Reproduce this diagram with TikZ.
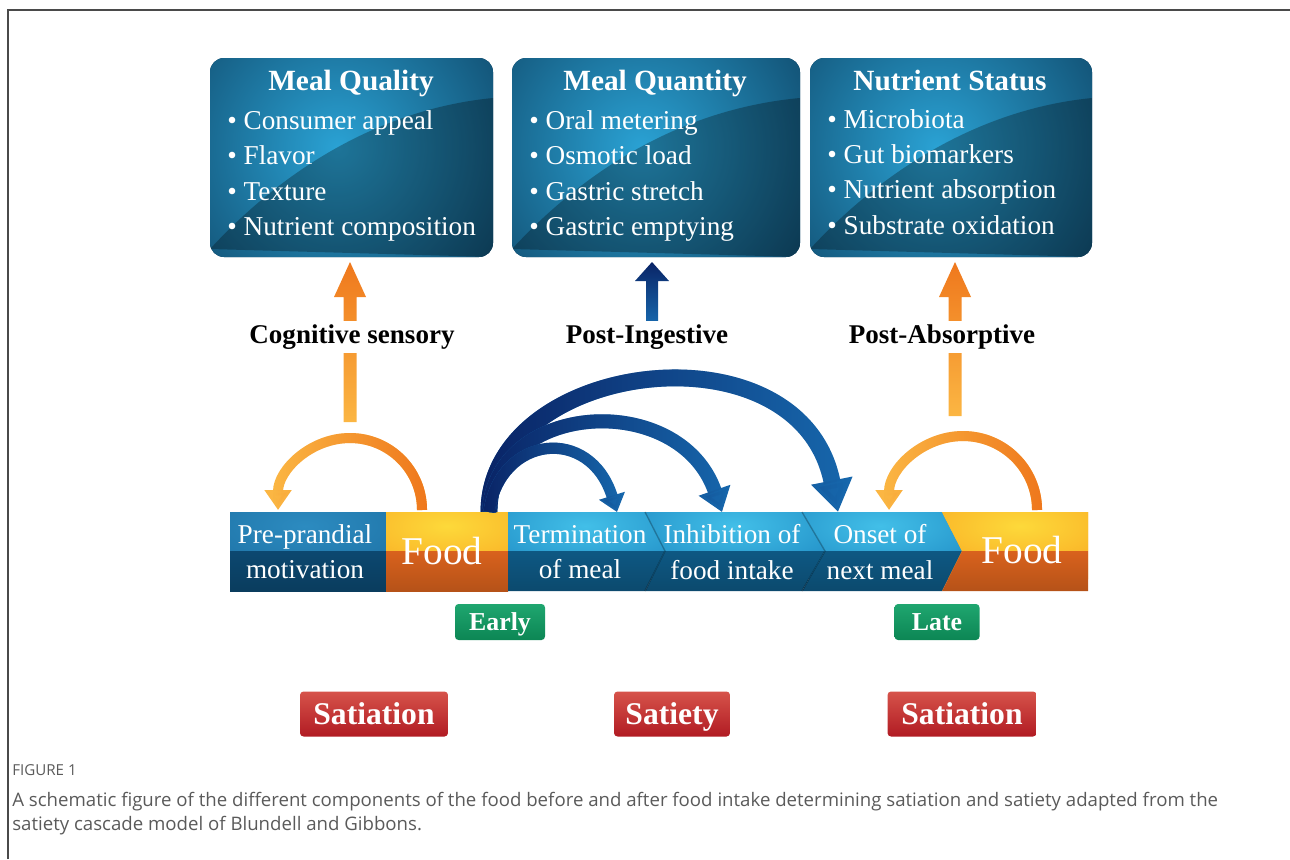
\documentclass[tikz,border=0pt]{standalone}
\usepackage{fontspec}
\setmainfont{Liberation Serif}
\newfontfamily\capfont{Open Sans}
\usetikzlibrary{calc,arrows.meta,fadings}

\definecolor{framegray}{HTML}{4A4A4A}
\definecolor{capgray}{HTML}{5A5A5A}
\definecolor{boxdark}{HTML}{0A3654}
\definecolor{boxglow}{HTML}{2AA2D4}
\definecolor{navy}{HTML}{0A2466}
\definecolor{midblue}{HTML}{1767AC}
\definecolor{deeporange}{HTML}{EF781D}
\definecolor{lightorange}{HTML}{FBB643}
\definecolor{pretop}{HTML}{1C6FA2}
\definecolor{preglow}{HTML}{2C8BC0}
\definecolor{prebottom}{HTML}{0C4870}
\definecolor{foodtop}{HTML}{F8A21F}
\definecolor{foodglow}{HTML}{FDD93A}
\definecolor{foodbottom}{HTML}{D9621D}
\definecolor{chevtop}{HTML}{1B86C0}
\definecolor{chevglow}{HTML}{42BFE8}
\definecolor{chevbottom}{HTML}{0E5883}
\definecolor{greentop}{HTML}{1FA66F}
\definecolor{greenbottom}{HTML}{0C8654}
\definecolor{redtop}{HTML}{D6534A}
\definecolor{redbottom}{HTML}{B11B23}

\tikzfading[name=fade out right, left color=transparent!0, right color=transparent!100]
\tikzfading[name=fade out left, left color=transparent!100, right color=transparent!0]

% rounded info box with glow and a darker lower-right sheen
\newcommand{\infobox}[4]{%
  \fill[boxdark, rounded corners=0.28cm] (#1,#2) rectangle (#3,#4);
  \begin{scope}
    \clip[rounded corners=0.28cm] (#1,#2) rectangle (#3,#4);
    \shade[inner color=boxglow, outer color=boxdark] ($(#1,#2)!0.45!(#3,#4)$) circle (5cm);
    \fill[black, opacity=0.28] ($(#1,#4)+(0,-8)$) .. controls ($(#1,#4)+(90,-105)$) and ($(#1,#4)+(190,-150)$) .. ($(#3,#2)+(0,40)$) -- (#3,#4) -- cycle;
  \end{scope}}

% one piece of the timeline bar: outline, glow x, glow, top and bottom colours
\newcommand{\barpiece}[5]{%
  \begin{scope}
    \clip #1;
    \fill[#4] (220,505) rectangle (1100,551);
    \shade[inner color=#3, outer color=#4] (#2,526) ellipse [x radius=3cm, y radius=1.2cm];
    \shade[top color=#5, bottom color=#5!80!black] (220,551) rectangle (1100,600);
  \end{scope}}

\tikzset{
  boxtitle/.style={anchor=base, text=white, font=\fontsize{16.7}{20}\selectfont\bfseries},
  boxlist/.style={text=white, align=left, anchor=west, inner sep=0pt, font=\fontsize{15.5}{20}\selectfont},
  phase/.style={fill=white, inner sep=2pt, font=\fontsize{15.4}{18}\selectfont\bfseries},
  bartext/.style={text=white, align=center, inner sep=0pt, font=\fontsize{15.5}{20}\selectfont},
  foodtext/.style={text=white, inner sep=0pt, font=\fontsize{22.4}{26}\selectfont},
  timebadge/.style={rounded corners=2pt, top color=greentop, bottom color=greenbottom, text=white,
    minimum height=0.72cm, inner sep=0pt, text height=12.2pt, text depth=3pt,
    font=\fontsize{14.7}{16}\selectfont\bfseries},
  effectbadge/.style={rounded corners=2pt, top color=redtop, bottom color=redbottom, text=white,
    minimum height=0.9cm, inner sep=0pt, text height=15.2pt, text depth=3.5pt,
    font=\fontsize{18}{20}\selectfont\bfseries},
  capline/.style={anchor=west, inner sep=0pt, text=capgray, font=\capfont\fontsize{10.6}{13}\selectfont}
}

\begin{document}
\begin{tikzpicture}[x=0.02cm, y=-0.02cm]
\useasboundingbox (0,0) rectangle (1290,859);

% page frame
\draw[framegray, line width=0.7pt] (8,859) -- (8,10) -- (1290,10);

% top boxes
\infobox{210}{58}{493}{257}
\infobox{512}{58}{800}{257}
\infobox{810}{58}{1092}{257}

\node[boxtitle] (qualityhead) at (351,90) {Meal Quality};
\node[boxlist] (qualitylist) at (227,176) {\textbullet{} Consumer appeal\\ \textbullet{} Flavor\\ \textbullet{} Texture\\ \textbullet{} Nutrient composition};
\node[boxtitle] (quantityhead) at (655,90) {Meal Quantity};
\node[boxlist] (quantitylist) at (529,176) {\textbullet{} Oral metering\\ \textbullet{} Osmotic load\\ \textbullet{} Gastric stretch\\ \textbullet{} Gastric emptying};
\node[boxtitle] (statushead) at (950,90) {Nutrient Status};
\node[boxlist] (statuslist) at (827,172) {\textbullet{} Microbiota\\ \textbullet{} Gut biomarkers\\ \textbullet{} Nutrient absorption\\ \textbullet{} Substrate oxidation};

% upward arrows
\shade[top color=deeporange, bottom color=lightorange] (343.5,422) -- (343.5,297) -- (334,297) -- (350,262) -- (366,297) -- (356.5,297) -- (356.5,422) -- cycle;
\shade[top color=navy, bottom color=midblue] (646,323) -- (646,281) -- (635,281) -- (652,262) -- (669,281) -- (658,281) -- (658,323) -- cycle;
\shade[top color=deeporange, bottom color=lightorange] (948.5,416) -- (948.5,297) -- (939,297) -- (955,262) -- (971,297) -- (961.5,297) -- (961.5,416) -- cycle;

\node[phase] (cognitive) at (352,337) {Cognitive sensory};
\node[phase] (ingestive) at (647,337) {Post-Ingestive};
\node[phase] (absorptive) at (942,337) {Post-Absorptive};

% timeline bar
\barpiece{(230,512) rectangle (386,591)}{305}{preglow}{pretop}{prebottom}
\barpiece{(386,512) rectangle (508,591)}{447}{foodglow}{foodtop}{foodbottom}
\barpiece{(508,512) -- (645,512) -- (665,551) -- (645,591) -- (508,591) -- cycle}{585}{chevglow}{chevtop}{chevbottom}
\barpiece{(645,512) -- (802,512) -- (825,551) -- (802,591) -- (645,591) -- (665,551) -- cycle}{735}{chevglow}{chevtop}{chevbottom}
\barpiece{(802,512) -- (942,512) -- (962,551) -- (942,591) -- (802,591) -- (825,551) -- cycle}{880}{chevglow}{chevtop}{chevbottom}
\barpiece{(942,512) -- (1088,512) -- (1088,591) -- (942,591) -- (962,551) -- cycle}{1020}{foodglow}{foodtop}{foodbottom}
\draw[black, opacity=0.25, line width=0.8pt] (645,512) -- (665,551) -- (645,591);
\draw[black, opacity=0.25, line width=0.8pt] (802,512) -- (825,551) -- (802,591);

\node[bartext] (preprandial) at (305,552) {Pre-prandial\\motivation};
\node[foodtext] (foodnow) at (442,551) {Food};
\node[bartext] (termination) at (580,552) {Termination\\of meal};
\node[bartext] (inhibition) at (732,552) {Inhibition of\\food intake};
\node[bartext] (onset) at (880,552) {Onset of\\next meal};
\node[foodtext] (foodnext) at (1022,550) {Food};

% ends of the connectors on top of the bar
\coordinate (arcbase) at (489,512);
\coordinate (termin) at (617,512);
\coordinate (inhibin) at (722,512);
\coordinate (onsetin) at (838,512);
\coordinate (foodleft) at (422,510);
\coordinate (foodright) at (1037,510);

% feedback loops from food
\draw[lightorange, line width=5.7pt, -{Triangle[width=0.52cm,length=0.4cm]}] (foodleft) arc[start angle=0, end angle=180, radius=1.44cm];
\draw[deeporange, path fading=fade out left, line width=5.7pt, -{Triangle[width=0.52cm,length=0.4cm]}] (foodleft) arc[start angle=0, end angle=180, radius=1.44cm];
\draw[lightorange, line width=5.7pt, -{Triangle[width=0.52cm,length=0.4cm]}] (foodright) arc[start angle=0, end angle=180, radius=1.48cm];
\draw[deeporange, path fading=fade out left, line width=5.7pt, -{Triangle[width=0.52cm,length=0.4cm]}] (foodright) arc[start angle=0, end angle=180, radius=1.48cm];

% cascade arcs
\draw[midblue, line width=9.6pt, -{Triangle[width=0.8cm,length=0.64cm]}] (arcbase) .. controls +(0,-152) and +(-38,-192) .. (onsetin);
\draw[navy, path fading=fade out right, line width=9.6pt, -{Triangle[width=0.8cm,length=0.64cm]}] (arcbase) .. controls +(0,-152) and +(-38,-192) .. (onsetin);
\draw[midblue, line width=8pt, -{Triangle[width=0.64cm,length=0.46cm]}] (arcbase) .. controls +(6,-112) and +(-42,-122) .. (inhibin);
\draw[navy, path fading=fade out right, line width=8pt, -{Triangle[width=0.64cm,length=0.46cm]}] (arcbase) .. controls +(6,-112) and +(-42,-122) .. (inhibin);
\draw[midblue, line width=6.4pt, -{Triangle[width=0.52cm,length=0.34cm]}] (arcbase) .. controls +(11,-77) and +(-27,-87) .. (termin);
\draw[navy, path fading=fade out right, line width=6.4pt, -{Triangle[width=0.52cm,length=0.34cm]}] (arcbase) .. controls +(11,-77) and +(-27,-87) .. (termin);

% timing and outcome badges
\node[timebadge, minimum width=1.8cm] (early) at (500,622) {Early};
\node[timebadge, minimum width=1.7cm] (late) at (937,622) {Late};
\node[effectbadge, minimum width=2.96cm] (satiationa) at (374,714) {Satiation};
\node[effectbadge, minimum width=2.32cm] (satiety) at (672,714) {Satiety};
\node[effectbadge, minimum width=2.98cm] (satiationb) at (962,714) {Satiation};

% caption
\node[capline, font=\capfont\fontsize{8.6}{10}\selectfont] (figlabel) at (12,770) {FIGURE 1};
\node[capline] (capone) at (12,802) {A schematic figure of the different components of the food before and after food intake determining satiation and satiety adapted from the};
\node[capline] (captwo) at (12,826) {satiety cascade model of Blundell and Gibbons.};
\end{tikzpicture}
\end{document}
